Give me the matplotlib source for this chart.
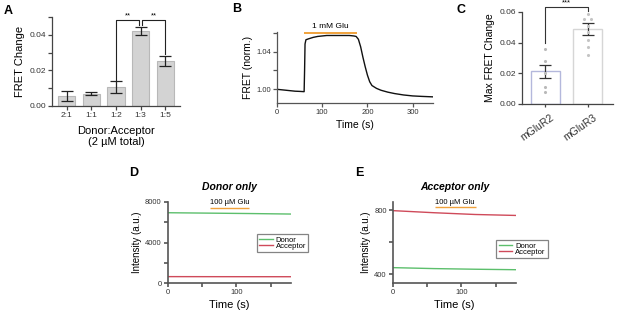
import matplotlib
matplotlib.use("Agg")
import matplotlib.pyplot as plt
import matplotlib.transforms as mtransforms
import numpy as np

plt.rcParams['font.family'] = ['Liberation Sans', 'DejaVu Sans']

# ---------------- data ----------------
# Panel A
a_cats = ["2:1", "1:1", "1:2", "1:3", "1:5"]
a_vals = [0.0057, 0.0068, 0.0107, 0.0420, 0.0255]
a_errs = [0.0030, 0.0008, 0.0033, 0.0022, 0.0028]

# Panel B trace
b_time = [0, 10, 20, 30, 40, 50, 60, 61, 62, 64, 70, 80, 90, 100, 110, 120, 130, 140,
          150, 160, 170, 175, 180, 185, 190, 195, 200, 205, 210, 220, 230, 245, 260,
          280, 300, 320, 345]
b_fret = [1.000, 0.9995, 0.999, 0.9985, 0.998, 0.9978, 0.9975, 1.020, 1.048, 1.0525,
          1.0535, 1.055, 1.056, 1.0565, 1.057, 1.057, 1.057, 1.057, 1.057, 1.057,
          1.0565, 1.056, 1.053, 1.045, 1.034, 1.024, 1.015, 1.008, 1.004, 1.001,
          0.999, 0.997, 0.9955, 0.994, 0.993, 0.9925, 0.992]

# Panel C
c_cats = ["mGluR2", "mGluR3"]
c_vals = [0.0212, 0.0490]
c_errs = [0.0045, 0.0038]
c_pts_r2 = [0.036, 0.028, 0.020, 0.011, 0.008]
c_pts_r3 = [0.059, 0.0555, 0.0555, 0.051, 0.047, 0.042, 0.037, 0.032]

# Panel D (Donor only)
d_time = [0, 60, 120, 180]
d_donor = [6940, 6900, 6860, 6810]
d_acceptor = [630, 625, 622, 620]

# Panel E (Acceptor only)
e_time = [0, 60, 120, 180]
e_donor = [440, 434, 430, 427]
e_acceptor = [796, 783, 772, 766]

GREEN = "#5cbf6c"
RED = "#cf4a5a"
ORANGE = "#f0a23c"
SPINE = "#444444"

fig = plt.figure(figsize=(6.17, 3.14), dpi=100)

def style(ax, lw=0.9, color=SPINE):
    for s in ["top", "right"]:
        ax.spines[s].set_visible(False)
    for s in ["left", "bottom"]:
        ax.spines[s].set_linewidth(lw)
        ax.spines[s].set_color(color)
    ax.tick_params(width=lw, color=color, length=3, labelsize=5.5, pad=1.5,
                   labelcolor="#333333")

W, H = 617, 314
def rect(l, r, t, b):
    return [l / W, (H - b) / H, (r - l) / W, (b - t) / H]

# ---------------- Panel A ----------------
axA = fig.add_axes(rect(52, 180, 17, 106))
x = np.arange(len(a_cats))
axA.bar(x, a_vals, width=0.7, color="#d3d3d3", edgecolor="#b8b8b8", linewidth=0.8)
axA.errorbar(x, a_vals, yerr=a_errs, fmt="none", ecolor="#222222", elinewidth=0.9,
             capsize=4.5, capthick=0.9)
axA.set_xlim(-0.6, 4.6)
axA.set_ylim(0, 0.05)
axA.set_yticks([0, 0.01, 0.02, 0.03, 0.04, 0.05])
axA.set_yticklabels(["0.00", "", "0.02", "", "0.04", ""])
axA.set_xticks(x)
axA.set_xticklabels(a_cats)
style(axA)
axA.tick_params(labelsize=6)
axA.set_ylabel("FRET Change", fontsize=8, labelpad=3)
axA.set_xlabel("Donor:Acceptor\n(2 µM total)", fontsize=8, labelpad=5, linespacing=1.15)
# significance brackets
by = 0.0483
axA.plot([2, 2, 2.95, 2.95], [0.0148, by, by, 0.0455], color="#222222", lw=0.8, clip_on=False)
axA.plot([3.05, 3.05, 4, 4], [0.0455, by, by, 0.0293], color="#222222", lw=0.8, clip_on=False)
axA.text(2.47, by + 0.0003, "**", ha="center", va="bottom", fontsize=5.5)
axA.text(3.52, by + 0.0003, "**", ha="center", va="bottom", fontsize=5.5)
fig.text(4 / W, 1 - 11 / H, "A", fontsize=9, fontweight="bold", va="center")

# ---------------- Panel B ----------------
axB = fig.add_axes(rect(277, 433, 32, 103))
axB.plot(b_time, b_fret, color="#111111", lw=1.0)
axB.set_xlim(0, 345)
axB.set_ylim(0.9855, 1.0607)
axB.set_yticks([1.00, 1.02, 1.04, 1.06])
axB.set_yticklabels(["1.00", "", "1.04", ""])
axB.set_xticks([0, 100, 200, 300])
style(axB, color="#555555")
axB.tick_params(labelsize=5.5)
axB.set_ylabel("FRET (norm.)", fontsize=7.5, labelpad=2)
axB.set_xlabel("Time (s)", fontsize=7.5, labelpad=3)
axB.plot([60, 178], [1.0597, 1.0597], color=ORANGE, lw=1.4, clip_on=False,
         solid_capstyle="butt")
axB.text(119, 1.0625, "1 mM Glu", ha="center", va="bottom", fontsize=6)
fig.text(232 / W, 1 - 9 / H, "B", fontsize=9, fontweight="bold", va="center")

# ---------------- Panel C ----------------
axC = fig.add_axes(rect(522, 613, 12, 104))
xc = np.array([0, 1])
axC.bar(xc, c_vals, width=0.68, color="white", edgecolor=["#b4b8dc", "#d6d6d6"],
        linewidth=1.0)
axC.errorbar(xc, c_vals, yerr=c_errs, fmt="none", ecolor="#333333", elinewidth=0.9,
             capsize=4, capthick=0.9)
axC.scatter(np.zeros(len(c_pts_r2)), c_pts_r2, s=5, color="#b9b9b9", zorder=3, lw=0)
offs3 = [0, -0.08, 0.08, 0, 0, 0, 0, 0]
axC.scatter(np.ones(len(c_pts_r3)) + np.array(offs3), c_pts_r3, s=5, color="#c4c4c4",
            zorder=3, lw=0)
axC.set_xlim(-0.55, 1.6)
axC.set_ylim(0, 0.06)
axC.set_yticks([0, 0.02, 0.04, 0.06])
axC.set_yticklabels(["0.00", "0.02", "0.04", "0.06"])
axC.set_xticks(xc)
axC.set_xticklabels(c_cats, rotation=35, ha="right", rotation_mode="anchor")
style(axC)
axC.tick_params(axis="x", length=2.5, pad=2, labelsize=7.5)
axC.tick_params(axis="y", labelsize=6)
shift = mtransforms.ScaledTranslation(5 / 100, -2 / 100, fig.dpi_scale_trans)
for lbl in axC.get_xticklabels():
    lbl.set_transform(lbl.get_transform() + shift)
axC.set_ylabel("Max FRET Change", fontsize=7.5, labelpad=3)
axC.plot([0, 0, 1, 1], [0.040, 0.0635, 0.0635, 0.0605], color="#333333", lw=0.8,
         clip_on=False)
axC.text(0.5, 0.0637, "***", ha="center", va="bottom", fontsize=5.5)
fig.text(457 / W, 1 - 10 / H, "C", fontsize=9, fontweight="bold", va="center")

# ---------------- Panel D ----------------
axD = fig.add_axes(rect(168, 291, 202, 283))
axD.plot(d_time, d_donor, color=GREEN, lw=1.0, label="Donor")
axD.plot(d_time, d_acceptor, color=RED, lw=1.0, label="Acceptor")
axD.set_xlim(0, 180)
axD.set_ylim(0, 8000)
axD.set_yticks([0, 2000, 4000, 6000, 8000])
axD.set_yticklabels(["0", "", "4000", "", "8000"])
axD.set_xticks([0, 50, 100, 150])
axD.set_xticklabels(["0", "", "100", ""])
style(axD, lw=1.2, color="#555555")
axD.set_ylabel("Intensity (a.u.)", fontsize=7, labelpad=2)
axD.set_xlabel("Time (s)", fontsize=8, labelpad=3)
axD.set_title("Donor only", fontsize=7.5, fontweight="bold", fontstyle="italic", pad=9)
axD.plot([61, 119], [7400, 7400], color=ORANGE, lw=1.0, solid_capstyle="butt")
axD.text(90, 7600, "100 µM Glu", ha="center", va="bottom", fontsize=5.5)
legD = axD.legend(loc="center left", bbox_to_anchor=(0.72, 0.49), fontsize=5.5,
                  frameon=True, fancybox=False, edgecolor="#666666", handlelength=1.8,
                  labelspacing=-0.15, borderpad=0.3, handletextpad=0.4, borderaxespad=0)
legD.get_frame().set_linewidth(0.9)
fig.text(129 / W, 1 - 173 / H, "D", fontsize=9, fontweight="bold", va="center")

# ---------------- Panel E ----------------
axE = fig.add_axes(rect(393, 516, 202, 283))
axE.plot(e_time, e_donor, color=GREEN, lw=1.0, label="Donor")
axE.plot(e_time, e_acceptor, color=RED, lw=1.0, label="Acceptor")
axE.set_xlim(0, 180)
axE.set_ylim(344, 850)
axE.set_yticks([400, 600, 800])
axE.set_yticklabels(["400", "", "800"])
axE.set_xticks([0, 50, 100, 150])
axE.set_xticklabels(["0", "", "100", ""])
style(axE, lw=1.2, color="#555555")
axE.set_ylabel("Intensity (a.u.)", fontsize=7, labelpad=2)
axE.set_xlabel("Time (s)", fontsize=8, labelpad=3)
axE.set_title("Acceptor only", fontsize=7.5, fontweight="bold", fontstyle="italic", pad=9)
axE.plot([61, 122], [817, 817], color=ORANGE, lw=1.0, solid_capstyle="butt")
axE.text(91, 828, "100 µM Glu", ha="center", va="bottom", fontsize=5.5)
legE = axE.legend(loc="center left", bbox_to_anchor=(0.84, 0.42), fontsize=5.5,
                  frameon=True, fancybox=False, edgecolor="#666666", handlelength=1.8,
                  labelspacing=-0.15, borderpad=0.3, handletextpad=0.4, borderaxespad=0)
legE.get_frame().set_linewidth(0.9)
fig.text(355 / W, 1 - 173 / H, "E", fontsize=9, fontweight="bold", va="center")

fig.savefig("out.png", dpi=100)
